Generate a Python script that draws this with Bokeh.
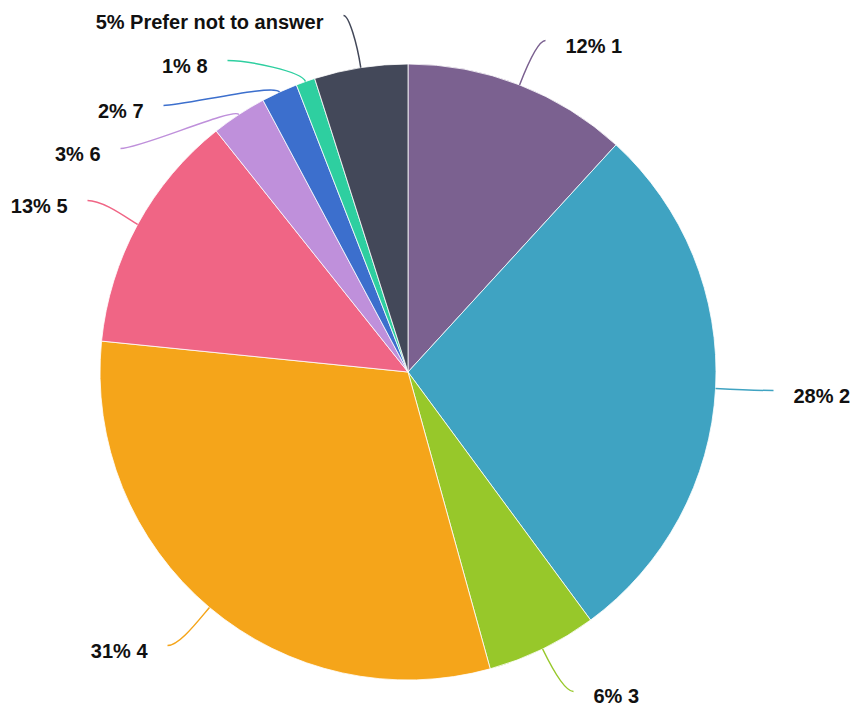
import math
from bokeh.plotting import figure
from bokeh.models import Range1d, ColumnDataSource
from bokeh.embed import file_html
from bokeh.resources import INLINE

# ---- data ----
categories = ["1", "2", "3", "4", "5", "6", "7", "8", "Prefer not to answer"]
shares = [11.8, 28.1, 5.8, 30.9, 12.7, 2.9, 1.9, 1.0, 4.9]
pct_labels = ["12%", "28%", "6%", "31%", "13%", "3%", "2%", "1%", "5%"]
colors = ["#7B6190", "#3FA3C2", "#97C82A", "#F5A51A", "#F06585",
          "#BF90DB", "#3C6FCD", "#2ECFA0", "#434859"]

# ---- layout (picture pixel coordinates) ----
CX, CY, R = 407.5, 371.5, 308.0
leader_end = [(545, 40), (773, 390), (573, 691), (167, 645), (87, 200),
              (120, 148), (163, 105), (227, 60), (343, 15)]
text_dy = [5, 5, 4, 5, 5, 5, 5, 5, 6]
elbow = [20, 12, 25, 20, 10, 9, 10, 11, 25]
label_side = [1, 1, 1, -1, -1, -1, -1, -1, -1]

W, H = 855, 707
p = figure(width=W, height=H, output_backend="svg", toolbar_location=None,
           x_range=Range1d(0, W), y_range=Range1d(-H, 0),
           min_border=0)
p.axis.visible = False
p.grid.visible = False
p.outline_line_color = None
p.background_fill_color = "white"
p.border_fill_color = "white"

total = sum(shares)
starts, ends, mids = [], [], []
cum = 0.0
for s in shares:
    a0 = cum / total * 2 * math.pi
    cum += s
    a1 = cum / total * 2 * math.pi
    starts.append(math.pi / 2 - a1)
    ends.append(math.pi / 2 - a0)
    mids.append((a0 + a1) / 2)

src = ColumnDataSource(dict(start=starts, end=ends, color=colors))
p.wedge(x=CX, y=-CY, radius=R, start_angle="start", end_angle="end",
        fill_color="color", line_color="white", line_width=0.8, source=src)

bx0, by0, bx1, by1, c0x, c0y, c1x, c1y, lc = [], [], [], [], [], [], [], [], []
tx, ty, tt, ta = [], [], [], []
for i, m in enumerate(mids):
    ux, uy = math.sin(m), -math.cos(m)
    sx, sy = CX + R * ux, CY + R * uy
    ex, ey = leader_end[i]
    k = elbow[i]
    ax, ay = sx + k * ux, sy + k * uy
    sg = label_side[i]
    off = min(abs(ax - ex) * 0.4, 20)
    bx0.append(sx); by0.append(-sy)
    bx1.append(ex); by1.append(-ey)
    c0x.append(ax); c0y.append(-ay)
    c1x.append(ex - sg * off); c1y.append(-ey)
    lc.append(colors[i])
    tx.append(ex + sg * 20)
    ty.append(-(ey + text_dy[i]))
    tt.append(f"{pct_labels[i]} {categories[i]}")
    ta.append("left" if sg > 0 else "right")

p.bezier(x0=bx0, y0=by0, x1=bx1, y1=by1, cx0=c0x, cy0=c0y, cx1=c1x, cy1=c1y,
         line_color=lc, line_width=1.5)

tsrc = ColumnDataSource(dict(x=tx, y=ty, t=tt, a=ta))
p.text(x="x", y="y", text="t", text_align="a", text_baseline="middle",
       text_font_size="20px", text_font_style="bold", text_color="#111111",
       text_font={"value": "Liberation Sans"}, source=tsrc)

open("out.html", "w").write(file_html(p, INLINE))
